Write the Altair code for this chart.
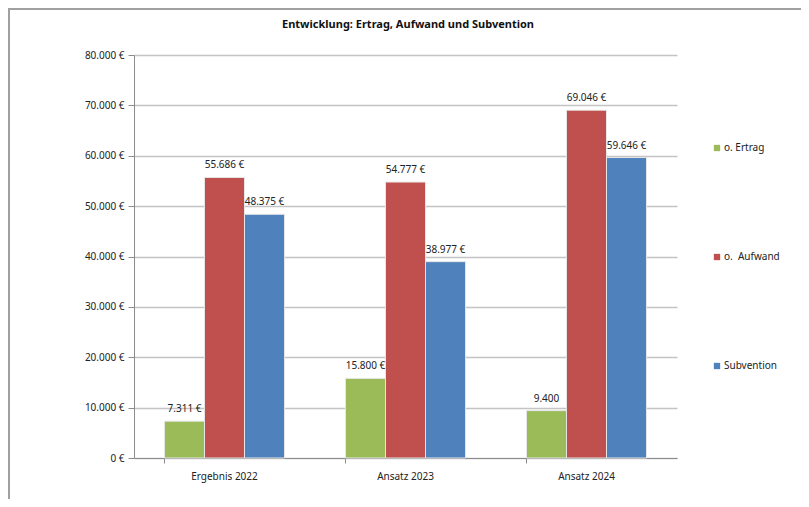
import altair as alt
import pandas as pd

categories = ["Ergebnis 2022", "Ansatz 2023", "Ansatz 2024"]
series = ["o. Ertrag", "o.  Aufwand", "Subvention"]
ertrag = [7311, 15800, 9400]
aufwand = [55686, 54777, 69046]
subvention = [48375, 38977, 59646]
label_ertrag = ["7.311 €", "15.800 €", "9.400"]
label_aufwand = ["55.686 €", "54.777 €", "69.046 €"]
label_subvention = ["48.375 €", "38.977 €", "59.646 €"]
colors = ["#9BBB59", "#C0504D", "#4F81BD"]
y_ticks = [0, 10000, 20000, 30000, 40000, 50000, 60000, 70000, 80000]
title_text = "Entwicklung: Ertrag, Aufwand und Subvention"

rows = []
for vals, labs, s in zip([ertrag, aufwand, subvention],
                         [label_ertrag, label_aufwand, label_subvention], series):
    for c, v, l in zip(categories, vals, labs):
        rows.append({"Kategorie": c, "Reihe": s, "Wert": v, "Label": l})
df = pd.DataFrame(rows)
single = pd.DataFrame({"t": [title_text]})

FONT = "Noto Sans"

x_enc = alt.X("Kategorie:N", sort=categories, title=None,
              scale=alt.Scale(paddingInner=0.337, paddingOuter=0.1685),
              axis=alt.Axis(labelAngle=0, labelFontSize=10, labelColor="#222222",
                            labelFont=FONT, labelPadding=8, domainColor="#8c8c8c",
                            tickColor="#8c8c8c", tickSize=5, bandPosition=0,
                            ticks=True, grid=False))
xoff = alt.XOffset("Reihe:N", sort=series)
y_enc = alt.Y("Wert:Q", title=None,
              scale=alt.Scale(domain=[0, 80000], nice=False),
              axis=alt.Axis(values=y_ticks, labelFontSize=10, labelColor="#222222",
                            labelFont=FONT, labelPadding=4, tickSize=6,
                            tickColor="#8c8c8c", domainColor="#8c8c8c",
                            gridColor="#c4c4c4", gridWidth=1.5,
                            labelExpr="replace(format(datum.value, ',.0f'), ',', '.') + ' €'"))

bars = alt.Chart(df).mark_bar(stroke="#e6e6e6", strokeWidth=1).encode(
    x=x_enc,
    xOffset=xoff,
    y=y_enc,
    color=alt.Color("Reihe:N", sort=series,
                    scale=alt.Scale(domain=series, range=colors),
                    legend=alt.Legend(title=None, orient="none", legendX=578,
                                      legendY=88, rowPadding=99, symbolType="square",
                                      symbolSize=40, symbolStrokeWidth=0,
                                      labelFontSize=10, labelFont=FONT,
                                      labelColor="#222222", labelOffset=2,
                                      labelExpr="replace(datum.label, '  ', '\u00a0 ')")),
)

texts = alt.Chart(df).mark_text(baseline="bottom", dy=-7, fontSize=10, font=FONT,
                                color="#222222").encode(
    x=alt.X("Kategorie:N", sort=categories),
    xOffset=alt.XOffset("Reihe:N", sort=series),
    y=alt.Y("Wert:Q"),
    text="Label:N",
)

frame = alt.Chart(single).mark_rect(fill=None, stroke="#a0a0a0", strokeWidth=2).encode(
    x=alt.value(-125), x2=alt.value(900), y=alt.value(-46), y2=alt.value(900)
)

title = alt.Chart(single).mark_text(fontSize=11, font=FONT, fontWeight="bold",
                                    color="#111111", baseline="middle",
                                    align="center").encode(
    x=alt.value(274), y=alt.value(-30), text="t:N"
)

chart = alt.layer(frame, bars, texts, title).properties(
    width=543, height=403,
    background="white",
    autosize=alt.AutoSizeParams(type="none"),
    padding={"left": 126, "top": 47, "right": 124, "bottom": 41},
).configure_view(stroke=None)

chart.save("out.html", embed_options={"renderer": "svg", "actions": False})
